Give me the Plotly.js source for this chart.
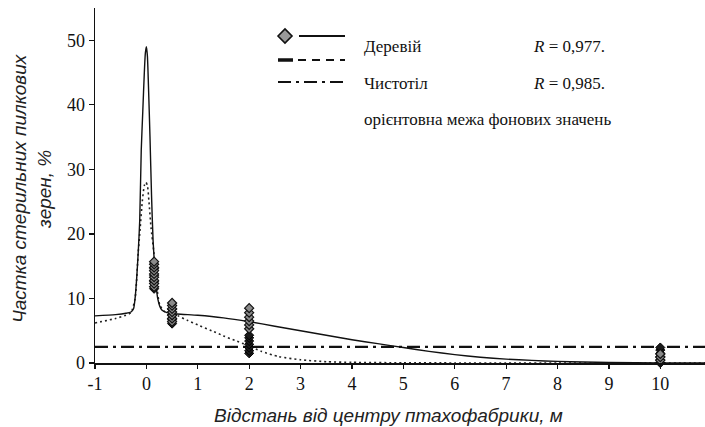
<!DOCTYPE html>
<html>
<head>
<meta charset="utf-8">
<script src="https://cdn.plot.ly/plotly-3.0.1.min.js"></script>
<style>html,body{margin:0;padding:0;background:#fff;}#chart{width:705px;height:427px;}</style>
</head>
<body>
<div id="chart"></div>
<script>
// ---- data ----
const xTicks = [-1, 0, 1, 2, 3, 4, 5, 6, 7, 8, 9, 10];
const yTicks = [0, 10, 20, 30, 40, 50];

// fitted curve, Деревій (solid)
const derevX = [-1, -0.6, -0.4, -0.3, -0.25, -0.22, -0.19, -0.16, -0.13, -0.1, -0.07, -0.04, -0.02, 0, 0.02, 0.04, 0.07, 0.1, 0.13, 0.16, 0.19, 0.22, 0.26, 0.3, 0.4, 0.6, 1, 1.5, 2, 2.5, 3, 3.5, 4, 4.5, 5, 5.5, 6, 6.5, 7, 7.5, 8, 8.5, 9, 10, 10.9];
const derevY = [7.3, 7.5, 7.7, 7.9, 8.4, 10, 13, 17, 22, 33, 39, 45, 48, 49, 47.5, 43, 35, 26, 19, 15, 12, 10, 8.8, 8.2, 7.8, 7.6, 7.4, 7.0, 6.4, 5.7, 5.0, 4.3, 3.6, 3.0, 2.4, 1.8, 1.3, 0.9, 0.6, 0.4, 0.25, 0.15, 0.08, 0.02, 0.0];

// fitted curve, Чистотіл (dotted)
const chystX = [-1, -0.6, -0.4, -0.3, -0.22, -0.16, -0.12, -0.08, -0.04, -0.01, 0.02, 0.05, 0.09, 0.14, 0.2, 0.26, 0.35, 0.5, 0.62, 0.8, 1.0, 1.27, 1.5, 1.72, 1.95, 2.24, 2.57, 3.0, 3.5, 4, 5, 6, 7, 8, 9, 10, 10.9];
const chystY = [6.2, 6.9, 7.4, 7.8, 10, 17, 21, 25, 27.5, 28, 27.5, 25, 21, 17.5, 12, 9, 8, 7.7, 7.3, 6.6, 5.9, 5.0, 4.2, 3.5, 2.8, 1.8, 1.0, 0.5, 0.2, 0.1, 0.03, 0.01, 0, 0, 0, 0, 0];

// background limit (dash-dot)
const bgX = [-1, 10.9];
const bgY = [2.5, 2.5];

// measured points, Деревій (grey diamonds)
const derevPtsX = [0.15, 0.15, 0.15, 0.15, 0.15, 0.15, 0.15, 0.15, 0.15, 0.5, 0.5, 0.5, 0.5, 0.5, 0.5, 0.5, 2, 2, 2, 2, 2, 2, 10, 10, 10];
const derevPtsY = [11.8, 12.3, 12.8, 13.3, 13.8, 14.3, 14.8, 15.3, 15.7, 6.4, 6.9, 7.4, 7.9, 8.4, 8.9, 9.3, 5.3, 5.9, 6.5, 7.1, 7.8, 8.5, 0.4, 0.9, 1.4];

// measured points, Чистотіл (dark diamonds)
const chystPtsX = [0.15, 0.15, 0.15, 0.15, 0.5, 0.5, 0.5, 0.5, 2, 2, 2, 2, 2, 2, 2, 10, 10, 10, 10, 10, 10, 10];
const chystPtsY = [11.5, 12.6, 13.6, 14.6, 6.1, 6.7, 7.5, 8.3, 1.5, 1.9, 2.4, 2.9, 3.4, 3.9, 4.3, -0.6, 0, 0.5, 1.0, 1.5, 2.0, 2.4];

// legend texts
const legendNames = ['Деревій', 'Чистотіл', 'орієнтовна межа фонових значень'];
const legendR = ['<i>R</i> = 0,977.', '<i>R</i> = 0,985.'];
const xTitle = 'Відстань від центру птахофабрики, м';
const yTitle = 'Частка стерильних пилкових<br>зерен, %';

// ---- layout helpers (pixel -> paper) ----
const L = 95, T = 8, W = 610, H = 355;
const px = p => (p - L) / W;
const py = p => (T + H - p) / H;

const serif = '"Liberation Serif", "Times New Roman", serif';
const sans = '"Liberation Sans", Arial, sans-serif';

const traces = [
  {x: bgX, y: bgY, mode: 'lines', line: {color: '#111', width: 2.2, dash: '13px,5px,3px,5px'}, hoverinfo: 'skip'},
  {x: chystX, y: chystY, mode: 'lines', line: {color: '#222', width: 1.6, dash: '2px,3px', shape: 'spline', smoothing: 0.6}, hoverinfo: 'skip'},
  {x: derevX, y: derevY, mode: 'lines', line: {color: '#111', width: 1.4, shape: 'spline', smoothing: 0.6}, hoverinfo: 'skip'},
  {x: chystPtsX, y: chystPtsY, mode: 'markers', cliponaxis: false,
   marker: {symbol: 'diamond', size: 7, color: '#1a1a1a', line: {color: '#000', width: 1}}},
  {x: derevPtsX, y: derevPtsY, mode: 'markers', cliponaxis: false,
   marker: {symbol: 'diamond', size: 7, color: '#8a8a8a', line: {color: '#111', width: 1.2}}}
];

const shapes = [
  // diamond + solid
  {type: 'path', xref: 'paper', yref: 'paper',
   path: `M ${px(278)},${py(36)} L ${px(285)},${py(29)} L ${px(292)},${py(36)} L ${px(285)},${py(43)} Z`,
   fillcolor: '#999', line: {color: '#111', width: 1.6}},
  {type: 'line', xref: 'paper', yref: 'paper', x0: px(299), x1: px(345), y0: py(36), y1: py(36), line: {color: '#111', width: 2}},
  // dashed
  {type: 'line', xref: 'paper', yref: 'paper', x0: px(278), x1: px(293), y0: py(60), y1: py(60), line: {color: '#111', width: 3.5}},
  {type: 'line', xref: 'paper', yref: 'paper', x0: px(298), x1: px(345), y0: py(60), y1: py(60), line: {color: '#111', width: 2, dash: '8px,6px'}},
  // dash-dot
  {type: 'line', xref: 'paper', yref: 'paper', x0: px(278), x1: px(345), y0: py(82), y1: py(82), line: {color: '#111', width: 2, dash: '13px,5px,3px,5px'}}
];

const annFont = {family: serif, size: 17, color: '#111'};
const annotations = [
  {xref: 'paper', yref: 'paper', x: px(362), y: py(47), xanchor: 'left', yanchor: 'middle', text: legendNames[0], showarrow: false, font: annFont},
  {xref: 'paper', yref: 'paper', x: px(531), y: py(47), xanchor: 'left', yanchor: 'middle', text: legendR[0], showarrow: false, font: annFont},
  {xref: 'paper', yref: 'paper', x: px(362), y: py(83), xanchor: 'left', yanchor: 'middle', text: legendNames[1], showarrow: false, font: annFont},
  {xref: 'paper', yref: 'paper', x: px(531), y: py(83), xanchor: 'left', yanchor: 'middle', text: legendR[1], showarrow: false, font: annFont},
  {xref: 'paper', yref: 'paper', x: px(362), y: py(119), xanchor: 'left', yanchor: 'middle', text: legendNames[2], showarrow: false, font: annFont},
  {xref: 'paper', yref: 'paper', x: px(388), y: py(415), xanchor: 'center', yanchor: 'middle', text: xTitle, showarrow: false,
   font: {family: sans, size: 19, color: '#222', style: 'italic'}},
  {xref: 'paper', yref: 'paper', x: px(32), y: py(188), xanchor: 'center', yanchor: 'middle', text: yTitle, textangle: -90, showarrow: false,
   font: {family: sans, size: 19, color: '#222', style: 'italic'}}
];

const layout = {
  width: 705, height: 427,
  margin: {l: L, r: 0, t: T, b: 427 - T - H, pad: 0},
  paper_bgcolor: '#fff', plot_bgcolor: '#fff',
  showlegend: false,
  xaxis: {range: [-1, 10.87], tickvals: xTicks, ticktext: xTicks.map(String), showgrid: false, zeroline: false,
          showline: true, linecolor: '#111', linewidth: 1.5, ticks: 'outside', ticklen: 4, tickcolor: '#111', tickwidth: 1.2,
          tickfont: {family: serif, size: 18, color: '#111'}},
  yaxis: {range: [0, 55], tickvals: yTicks, ticktext: yTicks.map(String), showgrid: false, zeroline: false,
          showline: true, linecolor: '#111', linewidth: 1.5, ticks: 'outside', ticklen: 5, tickcolor: '#111', tickwidth: 1.2,
          tickfont: {family: serif, size: 18, color: '#111'}},
  shapes: shapes,
  annotations: annotations
};

Plotly.newPlot('chart', traces, layout, {staticPlot: true, displayModeBar: false});
</script>
</body>
</html>
